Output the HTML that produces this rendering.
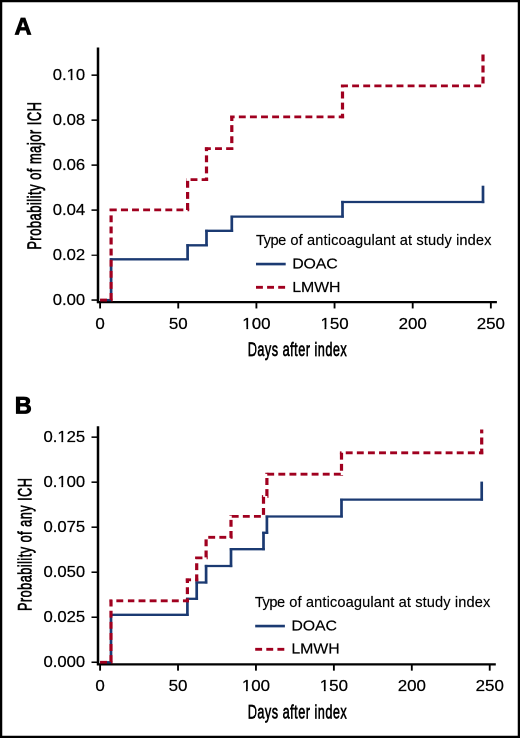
<!DOCTYPE html>
<html><head><meta charset="utf-8"><style>
html,body{margin:0;padding:0;background:#fff;}
body{width:520px;height:738px;overflow:hidden;}
#wrap{position:relative;width:520px;height:738px;overflow:hidden;background:#fff;}
svg{display:block;transform-origin:0 0;transform:scale(0.5);will-change:transform;}
text{font-family:"Liberation Sans",sans-serif;fill:#000;}

</style></head><body>
<div id="wrap"><svg width="1040" height="1476" viewBox="0 0 520 738">
<rect x="0" y="0" width="520" height="738" fill="#fff"/>
<rect x="0" y="0" width="520" height="738" fill="none" stroke="#000" stroke-width="4.5"/>
<text transform="translate(14.45,34.55)" font-size="23.6" font-weight="bold" stroke="#000" stroke-width="0.8">A</text>
<line x1="98" y1="47.5" x2="98" y2="303.16" stroke="#000" stroke-width="2.5"/>
<line x1="97" y1="302.16" x2="496.9" y2="302.16" stroke="#000" stroke-width="2.3"/>
<line x1="91.5" y1="300.06" x2="98" y2="300.06" stroke="#000" stroke-width="1.55"/>
<text class="tk" transform="translate(85.20,304.81) scale(1.07,1)" font-size="15.6" text-anchor="end" stroke="#000" stroke-width="0.22">0.00</text>
<line x1="91.5" y1="255.08" x2="98" y2="255.08" stroke="#000" stroke-width="1.55"/>
<text class="tk" transform="translate(85.20,259.83) scale(1.07,1)" font-size="15.6" text-anchor="end" stroke="#000" stroke-width="0.22">0.02</text>
<line x1="91.5" y1="210.10" x2="98" y2="210.10" stroke="#000" stroke-width="1.55"/>
<text class="tk" transform="translate(85.20,214.85) scale(1.07,1)" font-size="15.6" text-anchor="end" stroke="#000" stroke-width="0.22">0.04</text>
<line x1="91.5" y1="165.12" x2="98" y2="165.12" stroke="#000" stroke-width="1.55"/>
<text class="tk" transform="translate(85.20,169.87) scale(1.07,1)" font-size="15.6" text-anchor="end" stroke="#000" stroke-width="0.22">0.06</text>
<line x1="91.5" y1="120.14" x2="98" y2="120.14" stroke="#000" stroke-width="1.55"/>
<text class="tk" transform="translate(85.20,124.89) scale(1.07,1)" font-size="15.6" text-anchor="end" stroke="#000" stroke-width="0.22">0.08</text>
<line x1="91.5" y1="75.16" x2="98" y2="75.16" stroke="#000" stroke-width="1.55"/>
<text class="tk" transform="translate(85.20,79.91) scale(1.07,1)" font-size="15.6" text-anchor="end" stroke="#000" stroke-width="0.22">0.10</text>
<line x1="100.10" y1="302.16" x2="100.10" y2="308.46" stroke="#000" stroke-width="1.85"/>
<text class="tk" transform="translate(100.10,328.86) scale(1.085,1)" font-size="15.6" text-anchor="middle" stroke="#000" stroke-width="0.22">0</text>
<line x1="178.25" y1="302.16" x2="178.25" y2="308.46" stroke="#000" stroke-width="1.85"/>
<text class="tk" transform="translate(178.25,328.86) scale(1.085,1)" font-size="15.6" text-anchor="middle" stroke="#000" stroke-width="0.22">50</text>
<line x1="256.40" y1="302.16" x2="256.40" y2="308.46" stroke="#000" stroke-width="1.85"/>
<text class="tk" transform="translate(256.40,328.86) scale(1.085,1)" font-size="15.6" text-anchor="middle" stroke="#000" stroke-width="0.22">100</text>
<line x1="334.55" y1="302.16" x2="334.55" y2="308.46" stroke="#000" stroke-width="1.85"/>
<text class="tk" transform="translate(334.55,328.86) scale(1.085,1)" font-size="15.6" text-anchor="middle" stroke="#000" stroke-width="0.22">150</text>
<line x1="412.70" y1="302.16" x2="412.70" y2="308.46" stroke="#000" stroke-width="1.85"/>
<text class="tk" transform="translate(412.70,328.86) scale(1.085,1)" font-size="15.6" text-anchor="middle" stroke="#000" stroke-width="0.22">200</text>
<line x1="490.85" y1="302.16" x2="490.85" y2="308.46" stroke="#000" stroke-width="1.85"/>
<text class="tk" transform="translate(490.85,328.86) scale(1.085,1)" font-size="15.6" text-anchor="middle" stroke="#000" stroke-width="0.22">250</text>
<text transform="translate(297.50,356.10) scale(0.655,1)" font-size="19.4" text-anchor="middle" letter-spacing="0.75" stroke="#000" stroke-width="0.65">Days after index</text>
<text transform="translate(40.80,175.60) rotate(-90) scale(0.665,1)" font-size="19.4" text-anchor="middle" letter-spacing="0.75" stroke="#000" stroke-width="0.65">Probability of major ICH</text>
<line x1="100.10" y1="300.06" x2="112.45" y2="300.06" stroke="#1b3a72" stroke-width="2.3"/>
<line x1="111.10" y1="301.21" x2="111.10" y2="258.15" stroke="#1b3a72" stroke-width="2.7"/>
<line x1="109.75" y1="259.30" x2="188.95" y2="259.30" stroke="#1b3a72" stroke-width="2.3"/>
<line x1="187.60" y1="260.45" x2="187.60" y2="244.15" stroke="#1b3a72" stroke-width="2.7"/>
<line x1="186.25" y1="245.30" x2="207.85" y2="245.30" stroke="#1b3a72" stroke-width="2.3"/>
<line x1="206.50" y1="246.45" x2="206.50" y2="229.65" stroke="#1b3a72" stroke-width="2.7"/>
<line x1="205.15" y1="230.80" x2="233.15" y2="230.80" stroke="#1b3a72" stroke-width="2.3"/>
<line x1="231.80" y1="231.95" x2="231.80" y2="215.45" stroke="#1b3a72" stroke-width="2.7"/>
<line x1="230.45" y1="216.60" x2="343.85" y2="216.60" stroke="#1b3a72" stroke-width="2.3"/>
<line x1="342.50" y1="217.75" x2="342.50" y2="200.85" stroke="#1b3a72" stroke-width="2.7"/>
<line x1="341.15" y1="202.00" x2="484.35" y2="202.00" stroke="#1b3a72" stroke-width="2.3"/>
<line x1="483.00" y1="203.15" x2="483.00" y2="185.70" stroke="#1b3a72" stroke-width="2.7"/>
<line x1="100.10" y1="300.06" x2="112.70" y2="300.06" stroke="#a0001f" stroke-width="2.8" stroke-dasharray="6.9 4.2" stroke-dashoffset="0.00"/>
<line x1="111.10" y1="301.46" x2="111.10" y2="208.50" stroke="#a0001f" stroke-width="3.2" stroke-dasharray="6.9 4.2" stroke-dashoffset="9.60"/>
<line x1="109.50" y1="209.90" x2="189.20" y2="209.90" stroke="#a0001f" stroke-width="2.8" stroke-dasharray="6.9 4.2" stroke-dashoffset="99.56"/>
<line x1="187.60" y1="211.30" x2="187.60" y2="178.20" stroke="#a0001f" stroke-width="3.2" stroke-dasharray="6.9 4.2" stroke-dashoffset="176.26"/>
<line x1="186.00" y1="179.60" x2="208.10" y2="179.60" stroke="#a0001f" stroke-width="2.8" stroke-dasharray="6.9 4.2" stroke-dashoffset="206.36"/>
<line x1="206.50" y1="181.00" x2="206.50" y2="147.20" stroke="#a0001f" stroke-width="3.2" stroke-dasharray="6.9 4.2" stroke-dashoffset="225.46"/>
<line x1="204.90" y1="148.60" x2="233.40" y2="148.60" stroke="#a0001f" stroke-width="2.8" stroke-dasharray="6.9 4.2" stroke-dashoffset="256.26"/>
<line x1="231.80" y1="150.00" x2="231.80" y2="115.50" stroke="#a0001f" stroke-width="3.2" stroke-dasharray="6.9 4.2" stroke-dashoffset="281.76"/>
<line x1="230.20" y1="116.90" x2="344.10" y2="116.90" stroke="#a0001f" stroke-width="2.8" stroke-dasharray="6.9 4.2" stroke-dashoffset="313.26"/>
<line x1="342.50" y1="118.30" x2="342.50" y2="84.50" stroke="#a0001f" stroke-width="3.2" stroke-dasharray="6.9 4.2" stroke-dashoffset="424.16"/>
<line x1="340.90" y1="85.90" x2="484.60" y2="85.90" stroke="#a0001f" stroke-width="2.8" stroke-dasharray="6.9 4.2" stroke-dashoffset="454.96"/>
<line x1="483.00" y1="87.30" x2="483.00" y2="51.00" stroke="#a0001f" stroke-width="3.2" stroke-dasharray="6.9 4.2" stroke-dashoffset="595.66"/>
<text transform="translate(256.00,244.80)" font-size="14.6" letter-spacing="0.13" stroke="#000" stroke-width="0.15"><tspan letter-spacing="-0.45">Type</tspan> <tspan dx="0.4">of anticoagulant at study index</tspan></text>
<line x1="256.0" y1="264.1" x2="285.7" y2="264.1" stroke="#1b3a72" stroke-width="2.6"/>
<line x1="256.0" y1="287.3" x2="285.7" y2="287.3" stroke="#a0001f" stroke-width="2.9" stroke-dasharray="6.9 4.2"/>
<text transform="translate(292.20,268.70) scale(1.06,1)" font-size="15.0" letter-spacing="-0.1" stroke="#000" stroke-width="0.18">DOAC</text>
<text transform="translate(292.20,291.80) scale(1.06,1)" font-size="15.0" letter-spacing="-0.08" stroke="#000" stroke-width="0.18">LMWH</text>
<text transform="translate(14.75,413.40)" font-size="23.6" font-weight="bold" stroke="#000" stroke-width="0.8">B</text>
<line x1="98" y1="426.2" x2="98" y2="665.35" stroke="#000" stroke-width="2.5"/>
<line x1="97" y1="664.35" x2="495.8" y2="664.35" stroke="#000" stroke-width="2.3"/>
<line x1="91.5" y1="662.25" x2="98" y2="662.25" stroke="#000" stroke-width="1.55"/>
<text class="tk" transform="translate(85.20,667.00) scale(1.07,1)" font-size="15.6" text-anchor="end" stroke="#000" stroke-width="0.22">0.000</text>
<line x1="91.5" y1="617.23" x2="98" y2="617.23" stroke="#000" stroke-width="1.55"/>
<text class="tk" transform="translate(85.20,621.98) scale(1.07,1)" font-size="15.6" text-anchor="end" stroke="#000" stroke-width="0.22">0.025</text>
<line x1="91.5" y1="572.21" x2="98" y2="572.21" stroke="#000" stroke-width="1.55"/>
<text class="tk" transform="translate(85.20,576.96) scale(1.07,1)" font-size="15.6" text-anchor="end" stroke="#000" stroke-width="0.22">0.050</text>
<line x1="91.5" y1="527.19" x2="98" y2="527.19" stroke="#000" stroke-width="1.55"/>
<text class="tk" transform="translate(85.20,531.94) scale(1.07,1)" font-size="15.6" text-anchor="end" stroke="#000" stroke-width="0.22">0.075</text>
<line x1="91.5" y1="482.17" x2="98" y2="482.17" stroke="#000" stroke-width="1.55"/>
<text class="tk" transform="translate(85.20,486.92) scale(1.07,1)" font-size="15.6" text-anchor="end" stroke="#000" stroke-width="0.22">0.100</text>
<line x1="91.5" y1="437.15" x2="98" y2="437.15" stroke="#000" stroke-width="1.55"/>
<text class="tk" transform="translate(85.20,441.90) scale(1.07,1)" font-size="15.6" text-anchor="end" stroke="#000" stroke-width="0.22">0.125</text>
<line x1="100.10" y1="664.35" x2="100.10" y2="670.65" stroke="#000" stroke-width="1.85"/>
<text class="tk" transform="translate(100.10,691.05) scale(1.085,1)" font-size="15.6" text-anchor="middle" stroke="#000" stroke-width="0.22">0</text>
<line x1="178.02" y1="664.35" x2="178.02" y2="670.65" stroke="#000" stroke-width="1.85"/>
<text class="tk" transform="translate(178.02,691.05) scale(1.085,1)" font-size="15.6" text-anchor="middle" stroke="#000" stroke-width="0.22">50</text>
<line x1="255.95" y1="664.35" x2="255.95" y2="670.65" stroke="#000" stroke-width="1.85"/>
<text class="tk" transform="translate(255.95,691.05) scale(1.085,1)" font-size="15.6" text-anchor="middle" stroke="#000" stroke-width="0.22">100</text>
<line x1="333.88" y1="664.35" x2="333.88" y2="670.65" stroke="#000" stroke-width="1.85"/>
<text class="tk" transform="translate(333.88,691.05) scale(1.085,1)" font-size="15.6" text-anchor="middle" stroke="#000" stroke-width="0.22">150</text>
<line x1="411.80" y1="664.35" x2="411.80" y2="670.65" stroke="#000" stroke-width="1.85"/>
<text class="tk" transform="translate(411.80,691.05) scale(1.085,1)" font-size="15.6" text-anchor="middle" stroke="#000" stroke-width="0.22">200</text>
<line x1="489.73" y1="664.35" x2="489.73" y2="670.65" stroke="#000" stroke-width="1.85"/>
<text class="tk" transform="translate(489.73,691.05) scale(1.085,1)" font-size="15.6" text-anchor="middle" stroke="#000" stroke-width="0.22">250</text>
<text transform="translate(297.50,718.70) scale(0.655,1)" font-size="19.4" text-anchor="middle" letter-spacing="0.75" stroke="#000" stroke-width="0.65">Days after index</text>
<text transform="translate(31.40,544.30) rotate(-90) scale(0.655,1)" font-size="19.4" text-anchor="middle" letter-spacing="0.75" stroke="#000" stroke-width="0.65">Probability of any ICH</text>
<line x1="100.10" y1="662.25" x2="112.35" y2="662.25" stroke="#1b3a72" stroke-width="2.3"/>
<line x1="111.00" y1="663.40" x2="111.00" y2="613.65" stroke="#1b3a72" stroke-width="2.7"/>
<line x1="109.65" y1="614.80" x2="188.75" y2="614.80" stroke="#1b3a72" stroke-width="2.3"/>
<line x1="187.40" y1="615.95" x2="187.40" y2="597.65" stroke="#1b3a72" stroke-width="2.7"/>
<line x1="186.05" y1="598.80" x2="198.05" y2="598.80" stroke="#1b3a72" stroke-width="2.3"/>
<line x1="196.70" y1="599.95" x2="196.70" y2="581.35" stroke="#1b3a72" stroke-width="2.7"/>
<line x1="195.35" y1="582.50" x2="207.45" y2="582.50" stroke="#1b3a72" stroke-width="2.3"/>
<line x1="206.10" y1="583.65" x2="206.10" y2="564.85" stroke="#1b3a72" stroke-width="2.7"/>
<line x1="204.75" y1="566.00" x2="232.35" y2="566.00" stroke="#1b3a72" stroke-width="2.3"/>
<line x1="231.00" y1="567.15" x2="231.00" y2="548.05" stroke="#1b3a72" stroke-width="2.7"/>
<line x1="229.65" y1="549.20" x2="264.85" y2="549.20" stroke="#1b3a72" stroke-width="2.3"/>
<line x1="263.50" y1="550.35" x2="263.50" y2="531.65" stroke="#1b3a72" stroke-width="2.7"/>
<line x1="262.15" y1="532.80" x2="268.25" y2="532.80" stroke="#1b3a72" stroke-width="2.3"/>
<line x1="266.90" y1="533.95" x2="266.90" y2="515.35" stroke="#1b3a72" stroke-width="2.7"/>
<line x1="265.55" y1="516.50" x2="342.85" y2="516.50" stroke="#1b3a72" stroke-width="2.3"/>
<line x1="341.50" y1="517.65" x2="341.50" y2="498.45" stroke="#1b3a72" stroke-width="2.7"/>
<line x1="340.15" y1="499.60" x2="483.05" y2="499.60" stroke="#1b3a72" stroke-width="2.3"/>
<line x1="481.70" y1="500.75" x2="481.70" y2="481.60" stroke="#1b3a72" stroke-width="2.7"/>
<line x1="100.10" y1="662.25" x2="112.60" y2="662.25" stroke="#a0001f" stroke-width="2.8" stroke-dasharray="6.9 4.2" stroke-dashoffset="0.00"/>
<line x1="111.00" y1="663.65" x2="111.00" y2="599.40" stroke="#a0001f" stroke-width="3.2" stroke-dasharray="6.9 4.2" stroke-dashoffset="9.50"/>
<line x1="109.40" y1="600.80" x2="189.00" y2="600.80" stroke="#a0001f" stroke-width="2.8" stroke-dasharray="6.9 4.2" stroke-dashoffset="70.75"/>
<line x1="187.40" y1="602.20" x2="187.40" y2="578.40" stroke="#a0001f" stroke-width="3.2" stroke-dasharray="6.9 4.2" stroke-dashoffset="147.35"/>
<line x1="185.80" y1="579.80" x2="198.30" y2="579.80" stroke="#a0001f" stroke-width="2.8" stroke-dasharray="6.9 4.2" stroke-dashoffset="168.15"/>
<line x1="196.70" y1="581.20" x2="196.70" y2="556.50" stroke="#a0001f" stroke-width="3.2" stroke-dasharray="6.9 4.2" stroke-dashoffset="177.65"/>
<line x1="195.10" y1="557.90" x2="207.70" y2="557.90" stroke="#a0001f" stroke-width="2.8" stroke-dasharray="6.9 4.2" stroke-dashoffset="199.35"/>
<line x1="206.10" y1="559.30" x2="206.10" y2="535.90" stroke="#a0001f" stroke-width="3.2" stroke-dasharray="6.9 4.2" stroke-dashoffset="208.95"/>
<line x1="204.50" y1="537.30" x2="232.60" y2="537.30" stroke="#a0001f" stroke-width="2.8" stroke-dasharray="6.9 4.2" stroke-dashoffset="229.35"/>
<line x1="231.00" y1="538.70" x2="231.00" y2="515.00" stroke="#a0001f" stroke-width="3.2" stroke-dasharray="6.9 4.2" stroke-dashoffset="254.45"/>
<line x1="229.40" y1="516.40" x2="265.10" y2="516.40" stroke="#a0001f" stroke-width="2.8" stroke-dasharray="6.9 4.2" stroke-dashoffset="275.15"/>
<line x1="263.50" y1="517.80" x2="263.50" y2="495.10" stroke="#a0001f" stroke-width="3.2" stroke-dasharray="6.9 4.2" stroke-dashoffset="307.85"/>
<line x1="261.90" y1="496.50" x2="268.50" y2="496.50" stroke="#a0001f" stroke-width="2.8" stroke-dasharray="6.9 4.2" stroke-dashoffset="327.55"/>
<line x1="266.90" y1="497.90" x2="266.90" y2="472.80" stroke="#a0001f" stroke-width="3.2" stroke-dasharray="6.9 4.2" stroke-dashoffset="331.15"/>
<line x1="265.30" y1="474.20" x2="343.10" y2="474.20" stroke="#a0001f" stroke-width="2.8" stroke-dasharray="6.9 4.2" stroke-dashoffset="353.25"/>
<line x1="341.50" y1="475.60" x2="341.50" y2="451.40" stroke="#a0001f" stroke-width="3.2" stroke-dasharray="6.9 4.2" stroke-dashoffset="428.05"/>
<line x1="339.90" y1="452.80" x2="483.30" y2="452.80" stroke="#a0001f" stroke-width="2.8" stroke-dasharray="6.9 4.2" stroke-dashoffset="449.25"/>
<line x1="481.70" y1="454.20" x2="481.70" y2="429.50" stroke="#a0001f" stroke-width="3.2" stroke-dasharray="6.9 4.2" stroke-dashoffset="589.65"/>
<text transform="translate(254.85,606.90)" font-size="14.6" letter-spacing="0.13" stroke="#000" stroke-width="0.15"><tspan letter-spacing="-0.45">Type</tspan> <tspan dx="0.4">of anticoagulant at study index</tspan></text>
<line x1="255.2" y1="626.1" x2="284.9" y2="626.1" stroke="#1b3a72" stroke-width="2.6"/>
<line x1="255.2" y1="649.3" x2="284.9" y2="649.3" stroke="#a0001f" stroke-width="2.9" stroke-dasharray="6.9 4.2"/>
<text transform="translate(291.40,630.50) scale(1.06,1)" font-size="15.0" letter-spacing="-0.1" stroke="#000" stroke-width="0.18">DOAC</text>
<text transform="translate(291.40,653.70) scale(1.06,1)" font-size="15.0" letter-spacing="-0.08" stroke="#000" stroke-width="0.18">LMWH</text>
<rect transform="translate(85.20,79.91) scale(1.07,1)" x="-16.62" y="-1.98" width="3.06" height="2.88" fill="#fff"/>
<rect transform="translate(85.20,79.91) scale(1.07,1)" x="-11.92" y="-1.98" width="2.94" height="2.88" fill="#fff"/>
<rect transform="translate(256.40,328.86) scale(1.085,1)" x="-12.28" y="-1.98" width="3.06" height="2.88" fill="#fff"/>
<rect transform="translate(256.40,328.86) scale(1.085,1)" x="-7.57" y="-1.98" width="2.94" height="2.88" fill="#fff"/>
<rect transform="translate(334.55,328.86) scale(1.085,1)" x="-12.28" y="-1.98" width="3.06" height="2.88" fill="#fff"/>
<rect transform="translate(334.55,328.86) scale(1.085,1)" x="-7.57" y="-1.98" width="2.94" height="2.88" fill="#fff"/>
<rect transform="translate(85.20,486.92) scale(1.07,1)" x="-25.30" y="-1.98" width="3.06" height="2.88" fill="#fff"/>
<rect transform="translate(85.20,486.92) scale(1.07,1)" x="-20.60" y="-1.98" width="2.94" height="2.88" fill="#fff"/>
<rect transform="translate(85.20,441.90) scale(1.07,1)" x="-25.30" y="-1.98" width="3.06" height="2.88" fill="#fff"/>
<rect transform="translate(85.20,441.90) scale(1.07,1)" x="-20.60" y="-1.98" width="2.94" height="2.88" fill="#fff"/>
<rect transform="translate(255.95,691.05) scale(1.085,1)" x="-12.28" y="-1.98" width="3.06" height="2.88" fill="#fff"/>
<rect transform="translate(255.95,691.05) scale(1.085,1)" x="-7.57" y="-1.98" width="2.94" height="2.88" fill="#fff"/>
<rect transform="translate(333.88,691.05) scale(1.085,1)" x="-12.28" y="-1.98" width="3.06" height="2.88" fill="#fff"/>
<rect transform="translate(333.88,691.05) scale(1.085,1)" x="-7.57" y="-1.98" width="2.94" height="2.88" fill="#fff"/>
</svg></div>
</body></html>
